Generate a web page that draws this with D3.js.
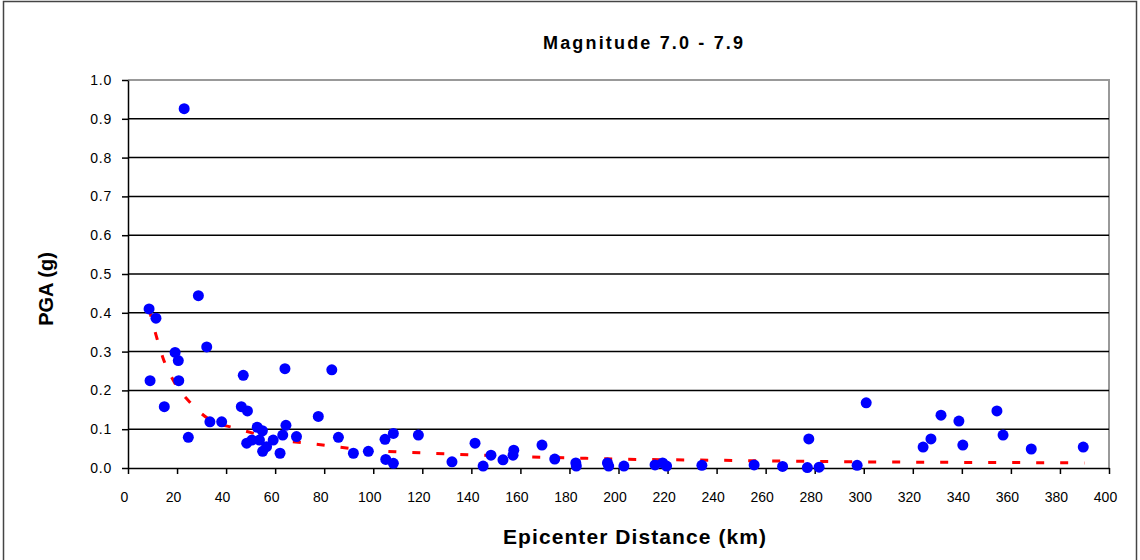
<!DOCTYPE html>
<html>
<head>
<meta charset="utf-8">
<script src="https://cdn.jsdelivr.net/npm/d3@7"></script>
<style>
  html, body { margin: 0; padding: 0; background: #fff; }
  svg { display: block; font-family: "Liberation Sans", Arial, sans-serif; }
</style>
</head>
<body>
<svg id="chart" width="1140" height="560"></svg>
<script>
// Recorded peak ground accelerations, magnitude 7.0 - 7.9 events
const distanceKm = [
  8.6, 11.4, 9.0, 14.8, 19.2, 20.5, 20.7, 22.9, 24.6, 28.7,
  32.1, 33.4, 38.2, 47.0, 46.2, 48.7, 48.4, 50.5, 52.7, 54.8,
  53.6, 54.9, 56.5, 59.2, 62.0, 63.1, 64.4, 64.0, 68.7, 77.6,
  83.1, 85.8, 91.9, 98.0, 104.8, 105.1, 108.2, 108.2, 118.4, 132.1,
  141.5, 144.8, 148.0, 152.9, 157.0, 157.3, 168.8, 174.0, 182.6, 182.8,
  195.5, 196.0, 202.2, 214.9, 218.0, 219.6, 234.0, 255.3, 266.9, 277.6,
  277.0, 281.8, 297.3, 301.0, 324.2, 327.4, 331.5, 338.8, 340.4, 354.3,
  356.8, 368.3, 389.5
];
const pgaG = [
  0.410, 0.386, 0.225, 0.158, 0.298, 0.277, 0.225, 0.926, 0.079, 0.444,
  0.312, 0.119, 0.119, 0.239, 0.158, 0.147, 0.064, 0.072, 0.105, 0.096,
  0.072, 0.043, 0.055, 0.072, 0.038, 0.085, 0.110, 0.256, 0.081, 0.133,
  0.253, 0.079, 0.038, 0.043, 0.074, 0.022, 0.089, 0.012, 0.085, 0.016,
  0.064, 0.005, 0.033, 0.021, 0.033, 0.046, 0.059, 0.023, 0.013, 0.005,
  0.013, 0.005, 0.005, 0.008, 0.013, 0.005, 0.007, 0.008, 0.004, 0.075,
  0.001, 0.002, 0.007, 0.168, 0.054, 0.075, 0.136, 0.121, 0.059, 0.147,
  0.085, 0.049, 0.054
];

// Attenuation trend (red dashed curve)
const trendKm  = [8.6, 11.4, 14.3, 19, 25.6, 33.4, 43.6, 53.8, 63, 73, 82, 93, 103,
                  120, 140, 160, 180, 200, 240, 280, 320, 360, 390];
const trendPga = [0.41, 0.343, 0.283, 0.22, 0.167, 0.124, 0.103, 0.085, 0.071, 0.064, 0.057, 0.049, 0.044,
                  0.039, 0.034, 0.029, 0.026, 0.023, 0.020, 0.017, 0.015, 0.014, 0.013];

const xTicks = d3.range(0, 401, 20);
const yTicks = [0, 0.1, 0.2, 0.3, 0.4, 0.5, 0.6, 0.7, 0.8, 0.9, 1.0];

const chartTitle = "Magnitude 7.0 - 7.9";
const xTitle = "Epicenter Distance (km)";
const yTitle = "PGA (g)";

const svg = d3.select("#chart");
const plot = { left: 128, right: 1109, top: 80, bottom: 468 };

const x = d3.scaleLinear().domain([0, 400]).range([plot.left, plot.right]);
const y = d3.scaleLinear().domain([0, 1]).range([plot.bottom, plot.top]);

// outer chart frame
svg.append("rect")
  .attr("x", 3.5).attr("y", 1.5).attr("width", 1133).attr("height", 600)
  .attr("fill", "none").attr("stroke", "#444").attr("stroke-width", 1.5);

// plot area frame (top / right)
svg.append("path")
  .attr("d", `M${plot.left},${plot.top}H${plot.right}V${plot.bottom}`)
  .attr("fill", "none").attr("stroke", "#999").attr("stroke-width", 2);

// horizontal gridlines
svg.append("g").selectAll("line")
  .data(yTicks.filter(t => t > 0 && t < 1))
  .join("line")
  .attr("x1", plot.left).attr("x2", plot.right)
  .attr("y1", d => y(d)).attr("y2", d => y(d))
  .attr("stroke", "#000").attr("stroke-width", 1.5);

// axes
const xAxis = svg.append("g")
  .attr("transform", `translate(0,${plot.bottom})`)
  .call(d3.axisBottom(x).tickValues(xTicks).tickSize(6).tickSizeOuter(0).tickPadding(18)
    .tickFormat(d3.format("d")));
const yAxis = svg.append("g")
  .attr("transform", `translate(${plot.left},0)`)
  .call(d3.axisLeft(y).tickValues(yTicks).tickSize(6).tickSizeOuter(0).tickPadding(10)
    .tickFormat(d3.format(".1f")));

[xAxis, yAxis].forEach(g => {
  g.select(".domain").attr("stroke", "#000").attr("stroke-width", 1.5);
  g.selectAll(".tick line").attr("stroke", "#000").attr("stroke-width", 1.5);
  g.selectAll(".tick text")
    .attr("fill", "#000")
    .style("font-family", '"Liberation Sans", Arial, sans-serif')
    .style("font-size", "14px");
});
xAxis.selectAll(".tick text").attr("dx", -4);
yAxis.selectAll(".tick text").style("letter-spacing", "0.8px");

// trend curve
const trendLine = d3.line()
  .x((d, i) => x(trendKm[i]))
  .y(d => y(d))
  .curve(d3.curveMonotoneX);
svg.append("path")
  .attr("d", trendLine(trendPga))
  .attr("fill", "none")
  .attr("stroke", "#ff0000")
  .attr("stroke-width", 3)
  .attr("stroke-dasharray", "8,16");

// observations
svg.append("g").selectAll("circle")
  .data(distanceKm)
  .join("circle")
  .attr("cx", d => x(d))
  .attr("cy", (d, i) => y(pgaG[i]))
  .attr("r", 5.5)
  .attr("fill", "#0000ff");

// titles
svg.append("text")
  .attr("x", 643).attr("y", 49)
  .attr("text-anchor", "middle")
  .attr("textLength", 200).attr("lengthAdjust", "spacing")
  .style("font-size", "18px").style("font-weight", "bold")
  .text(chartTitle);

svg.append("text")
  .attr("x", 634.5).attr("y", 544)
  .attr("text-anchor", "middle")
  .attr("textLength", 263).attr("lengthAdjust", "spacing")
  .style("font-size", "21px").style("font-weight", "bold")
  .text(xTitle);

svg.append("text")
  .attr("transform", "translate(53,289) rotate(-90)")
  .attr("text-anchor", "middle")
  .style("font-size", "20px").style("font-weight", "bold")
  .text(yTitle);
</script>
</body>
</html>
